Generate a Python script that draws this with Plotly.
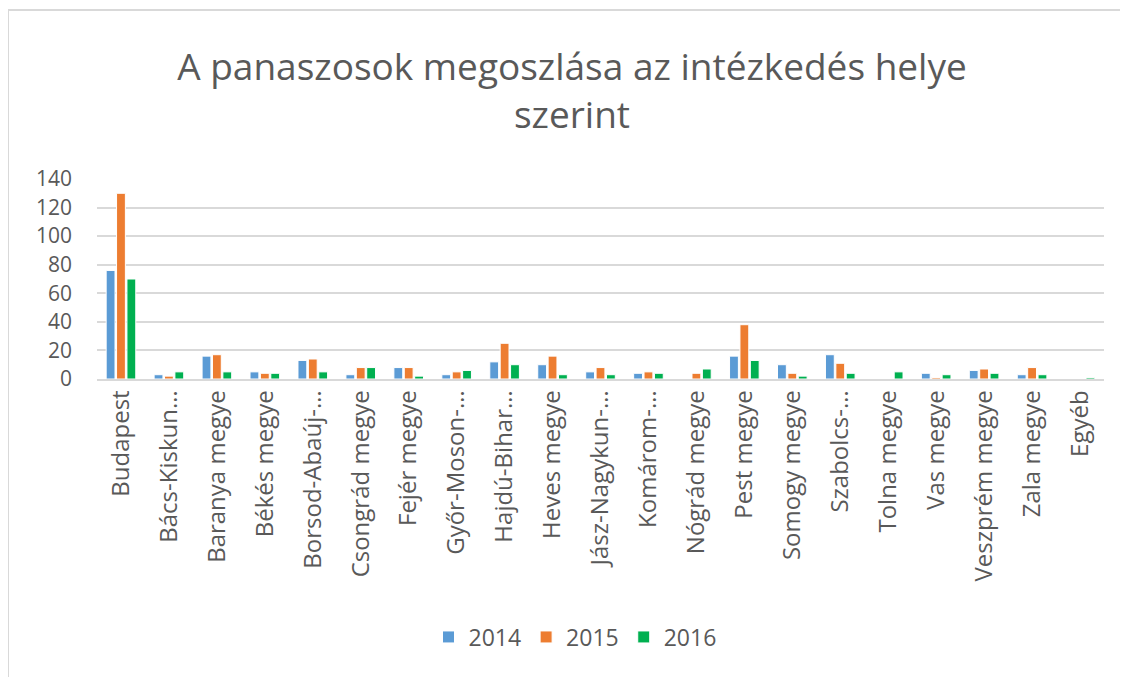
import plotly.graph_objects as go

categories = ["Budapest", "Bács-Kiskun…", "Baranya megye", "Békés megye", "Borsod-Abaúj-…",
              "Csongrád megye", "Fejér megye", "Győr-Moson-…", "Hajdú-Bihar…", "Heves megye",
              "Jász-Nagykun-…", "Komárom-…", "Nógrád megye", "Pest megye", "Somogy megye",
              "Szabolcs-…", "Tolna megye", "Vas megye", "Veszprém megye", "Zala megye", "Egyéb"]

v2014 = [76, 3, 16, 5, 13, 3, 8, 3, 12, 10, 5, 4, 0, 16, 10, 17, 0, 4, 6, 3, 0]
v2015 = [130, 2, 17, 4, 14, 8, 8, 5, 25, 16, 8, 5, 4, 38, 4, 11, 0, 1, 7, 8, 0]
v2016 = [70, 5, 5, 4, 5, 8, 2, 6, 10, 3, 3, 4, 7, 13, 2, 4, 5, 3, 4, 3, 1]

series = [("2014", v2014, "#5B9BD5"), ("2015", v2015, "#ED7D31"), ("2016", v2016, "#00B050")]

FONT = "Open Sans"
TXT = "#595959"

fig = go.Figure()
for name, vals, col in series:
    fig.add_trace(go.Bar(name=name, x=categories, y=vals,
                         marker=dict(color=col, line=dict(color="white", width=1))))

OFF = 8  # page body margin
W, H = 1120, 669
# target plot area in page pixels
PX0, PX1, PY0, PY1 = 97, 1104, 179, 379
L = PX0 - OFF
R = W - (PX1 - OFF)
T = PY0 - OFF
B = H - (PY1 - OFF)
pw = PX1 - PX0
ph = PY1 - PY0

def px_x(px):
    return (px - PX0) / pw

def px_y(py):
    return (PY1 - py) / ph

fig.update_layout(
    width=W, height=H,
    margin=dict(l=L, r=R, t=T, b=B, autoexpand=False),
    paper_bgcolor="white", plot_bgcolor="white",
    font=dict(family=FONT, color=TXT),
    title=dict(text="A panaszosok megoszlása az intézkedés helye<br>szerint",
               x=(572 - OFF) / W, xanchor="center", y=1 - (80 - OFF) / H, yanchor="middle",
               font=dict(size=37, color=TXT, family=FONT)),
    barmode="group", bargap=0.35, bargroupgap=0.15,
    showlegend=True,
    legend=dict(orientation="h", x=px_x(575), xanchor="center", y=px_y(637), yanchor="middle",
                font=dict(size=23, color=TXT, family=FONT), itemwidth=30),
    xaxis=dict(tickangle=-90, tickfont=dict(size=24, color=TXT, family=FONT),
               showline=True, linecolor="#d9d9d9", linewidth=1.5, ticks="", showgrid=False),
    yaxis=dict(range=[0, 140], dtick=20, tickfont=dict(size=21, color=TXT, family=FONT),
               showgrid=True, gridcolor="#d9d9d9", gridwidth=1.5, zeroline=False,
               showline=False, ticks="", ticklabelstandoff=24),
)

# chart frame: top and left edges (right/bottom run past the page)
fig.add_shape(type="line", xref="paper", yref="paper",
              x0=px_x(8), x1=px_x(1200), y0=px_y(10), y1=px_y(10),
              line=dict(color="#d9d9d9", width=2), layer="below")
fig.add_shape(type="line", xref="paper", yref="paper",
              x0=px_x(8), x1=px_x(8), y0=px_y(10), y1=px_y(760),
              line=dict(color="#d9d9d9", width=2), layer="below")

fig.write_html("out.html")
